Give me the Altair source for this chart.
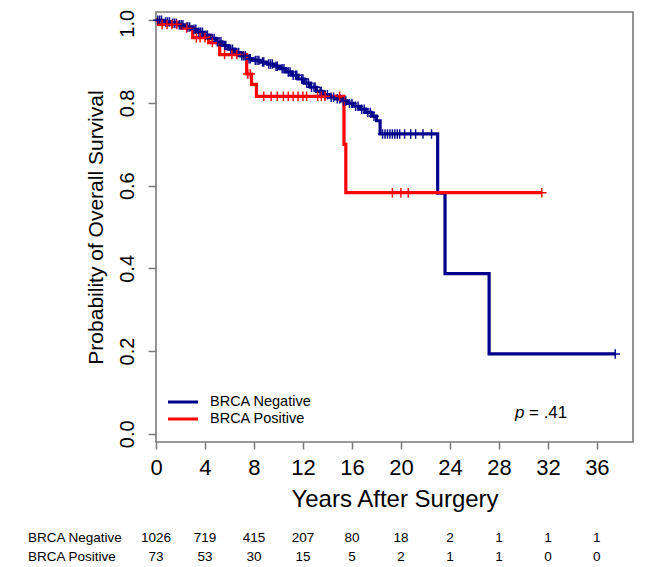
import altair as alt
import pandas as pd

# ---------------- data ----------------
groups = ["BRCA Negative", "BRCA Positive"]
colors = ["#00008B", "#FF0000"]

neg_times = [0, 0.6, 1.2, 1.8, 2.4, 2.9, 3.4, 3.9, 4.4, 4.9, 5.4, 5.9, 6.4, 6.9,
             7.4, 7.9, 8.5, 9.1, 9.6, 10.1, 10.6, 11.1, 11.6, 12.1, 12.6, 13.1,
             13.6, 14.1, 14.6, 15.1, 15.6, 16.1, 16.6, 17.1, 17.6, 18.0, 18.3,
             23.0, 23.6, 27.2, 37.5]
neg_surv = [1.0, 0.996, 0.993, 0.989, 0.984, 0.978, 0.971, 0.964, 0.956, 0.948,
            0.939, 0.930, 0.922, 0.914, 0.907, 0.903, 0.899, 0.894, 0.889, 0.883,
            0.875, 0.867, 0.858, 0.848, 0.838, 0.828, 0.820, 0.814, 0.810, 0.805,
            0.799, 0.792, 0.785, 0.777, 0.768, 0.757, 0.725, 0.582, 0.387, 0.193,
            0.193]
neg_censor = [0.15, 0.3, 0.45, 0.8, 0.95, 1.1, 1.35, 1.5, 1.65, 1.9, 2.05, 2.2,
              2.5, 2.6, 2.75, 3.1, 3.25, 3.5, 3.65, 3.8, 4.05, 4.2, 4.6, 4.75,
              5.0, 5.15, 5.3, 5.6, 5.7, 6.1, 6.25, 6.6, 6.75, 7.0, 7.15, 7.3, 7.6,
              7.7, 8.1, 8.25, 8.4, 8.7, 8.8, 9.2, 9.35, 9.5, 9.8, 9.9, 10.3, 10.45,
              10.8, 10.95, 11.2, 11.4, 11.5, 11.9, 12.0, 12.3, 12.45, 12.7, 12.9,
              13.0, 13.4, 13.5, 13.8, 14.0, 14.3, 14.5, 14.8, 15.0, 15.3, 15.5,
              15.8, 16.0, 16.3, 16.5, 16.8, 17.0, 17.3, 17.5, 17.8, 18.5, 18.7,
              18.9, 19.1, 19.3, 19.5, 19.7, 19.9, 20.3, 20.8, 21.2, 21.8, 22.5,
              37.5]

pos_times = [0, 0.2, 2.1, 3.0, 4.3, 5.2, 7.4, 7.8, 8.2, 15.35, 15.5, 31.5]
pos_surv = [1.0, 0.99, 0.981, 0.958, 0.946, 0.917, 0.870, 0.845, 0.816, 0.700,
            0.583, 0.583]
pos_censor = [0.5, 0.9, 1.3, 1.7, 2.5, 3.3, 3.6, 4.0, 4.6, 5.6, 6.2, 6.6, 7.5,
              7.7, 8.8, 9.4, 9.9, 10.4, 10.8, 11.2, 11.6, 12.0, 12.3, 13.2, 13.5,
              13.8, 15.0, 19.3, 20.0, 20.6, 31.5]

risk_times = [0, 4, 8, 12, 16, 20, 24, 28, 32, 36]
risk_neg = [1026, 719, 415, 207, 80, 18, 2, 1, 1, 1]
risk_pos = [73, 53, 30, 15, 5, 2, 1, 1, 0, 0]

x_ticks = [0, 4, 8, 12, 16, 20, 24, 28, 32, 36]
y_ticks = [0.0, 0.2, 0.4, 0.6, 0.8, 1.0]
p_label = ["p", "=  .41"]

FONT = "Liberation Sans"
GRAY = "#7a7a7a"


def step_value(times, surv, t):
    v = surv[0]
    for ti, si in zip(times, surv):
        if ti <= t:
            v = si
    return v


curve_rows = []
for g, ts, ss in [(groups[0], neg_times, neg_surv), (groups[1], pos_times, pos_surv)]:
    for i, (t, s) in enumerate(zip(ts, ss)):
        curve_rows.append({"group": g, "time": t, "surv": s, "o": i})
curves = pd.DataFrame(curve_rows)

cens_rows = []
for g, cs, ts, ss in [(groups[0], neg_censor, neg_times, neg_surv),
                      (groups[1], pos_censor, pos_times, pos_surv)]:
    for c in cs:
        cens_rows.append({"group": g, "time": c, "surv": step_value(ts, ss, c)})
cens = pd.DataFrame(cens_rows)

risk = pd.DataFrame({
    "time": risk_times + risk_times,
    "n": risk_neg + risk_pos,
    "group": [groups[0]] * len(risk_times) + [groups[1]] * len(risk_times),
})

color_scale = alt.Scale(domain=groups, range=colors)
xs = alt.Scale(domain=[0, 38.95], nice=False, zero=False)
ys = alt.Scale(domain=[-0.02, 1.02], nice=False, zero=False)

x_enc = alt.X("time:Q", scale=xs, axis=alt.Axis(
    values=x_ticks, format="d", title="Years After Surgery", tickSize=7,
    labelPadding=8, titlePadding=9, titleFontSize=24, labelFontSize=22,
    labelFlush=False))
y_enc = alt.Y("surv:Q", scale=ys, axis=alt.Axis(
    values=y_ticks, format=".1f", title="Probability of Overall Survival",
    tickSize=8, labelAngle=-90, labelAlign="center", labelBaseline="bottom",
    labelPadding=11, titlePadding=11, titleFontSize=21, labelFontSize=20,
    labelOffset=alt.ConditionalAxisNumber(
        condition={"test": "datum.value >= 0.99", "value": 3}, value=0),
    labelFlush=False))

lines = alt.Chart(curves).mark_line(interpolate="step-after", strokeWidth=3.2).encode(
    x=x_enc, y=y_enc,
    color=alt.Color("group:N", scale=color_scale, legend=None),
    detail="group:N", order="o:Q")

marks = alt.Chart(cens).mark_point(
    shape="M-1,0L1,0M0,-1L0,1", filled=False, size=90, strokeWidth=1.4, opacity=1
).encode(x=alt.X("time:Q", scale=xs), y=alt.Y("surv:Q", scale=ys),
         color=alt.Color("group:N", scale=color_scale, legend=None))

# legend (drawn by hand, R style)
leg_y = [390, 407]
legend_layers = []
for g, c, yy in zip(groups, colors, leg_y):
    src = pd.DataFrame({"group": [g]})
    legend_layers.append(alt.Chart(src).mark_rule(color=c, strokeWidth=3).encode(
        x=alt.value(12), x2=alt.value(42), y=alt.value(yy)))
    legend_layers.append(alt.Chart(src).mark_text(
        align="left", baseline="middle", font=FONT, fontSize=14.5, color="black"
    ).encode(x=alt.value(54), y=alt.value(yy), text="group:N"))

# p value
p_df = pd.DataFrame({"t": p_label})
p1 = alt.Chart(p_df.iloc[[0]]).mark_text(
    align="left", baseline="middle", font=FONT, fontSize=17, fontStyle="italic",
    color="black").encode(x=alt.value(359), y=alt.value(401), text="t:N")
p2 = alt.Chart(p_df.iloc[[1]]).mark_text(
    align="left", baseline="middle", font=FONT, fontSize=17, color="black"
).encode(x=alt.value(373), y=alt.value(401), text="t:N")

# number at risk table
row_y = [526, 545]
risk_layers = []
for g, yy in zip(groups, row_y):
    sub = risk[risk["group"] == g]
    risk_layers.append(alt.Chart(sub).mark_text(
        align="center", baseline="middle", font=FONT, fontSize=13.5, color="black"
    ).encode(x=alt.X("time:Q", scale=xs), y=alt.value(yy), text="n:Q"))
    risk_layers.append(alt.Chart(pd.DataFrame({"group": [g]})).mark_text(
        align="left", baseline="middle", font=FONT, fontSize=13.5, color="black"
    ).encode(x=alt.value(-128), y=alt.value(yy), text="group:N"))

chart = alt.layer(lines, marks, *legend_layers, p1, p2, *risk_layers).properties(
    width=477, height=430,
    autosize=alt.AutoSizeParams(type="none"),
    padding={"left": 148, "top": 4, "right": 6, "bottom": 125},
).configure_view(
    stroke=GRAY, strokeWidth=1.6
).configure_axis(
    domain=False, grid=False, tickColor=GRAY, tickWidth=1.5,
    labelFont=FONT, titleFont=FONT, labelColor="black", titleColor="black",
    titleFontWeight="normal"
)

chart.save("out.html", embed_options={"renderer": "svg", "actions": False})
